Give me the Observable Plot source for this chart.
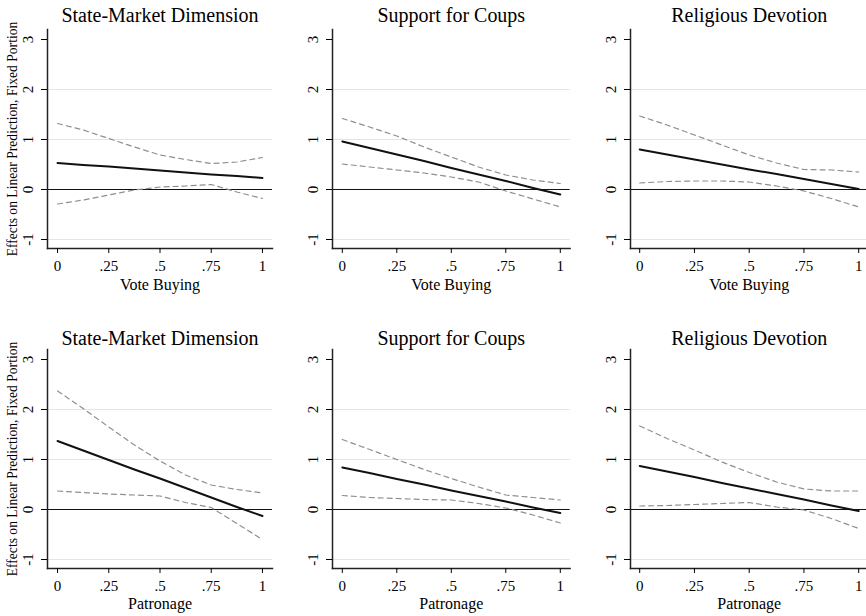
<!DOCTYPE html>
<html>
<head>
<meta charset="utf-8">
<script src="https://cdn.jsdelivr.net/npm/d3@7"></script>
<script src="https://cdn.jsdelivr.net/npm/@observablehq/plot@0.6"></script>
<style>
  html, body { margin: 0; padding: 0; background: #fff; }
  #chart { position: relative; width: 866px; height: 616px; overflow: hidden; background: #fff; }
  #chart svg { position: absolute; overflow: visible; }
</style>
</head>
<body>
<div id="chart"></div>
<script>
// ---------- Data ----------
const xGrid = [0, 0.125, 0.25, 0.375, 0.5, 0.625, 0.75, 0.875, 1];
const xTicks = [0, 0.25, 0.5, 0.75, 1];
const xTickLabels = ["0", ".25", ".5", ".75", "1"];
const yTicks = [-1, 0, 1, 2, 3];
const yTickLabels = ["-1", "0", "1", "2", "3"];
const gridTicks = [-1, 1, 2];
const panelTitles = ["State-Market Dimension", "Support for Coups", "Religious Devotion"];
const rowXLabels = ["Vote Buying", "Patronage"];
const yTitle = "Effects on Linear Prediction, Fixed Portion";

// Row 1: Vote Buying
const stateMarketVoteEst = [0.53, 0.49, 0.46, 0.42, 0.38, 0.34, 0.30, 0.27, 0.23];
const stateMarketVoteHi  = [1.32, 1.19, 1.02, 0.85, 0.69, 0.60, 0.52, 0.55, 0.64];
const stateMarketVoteLo  = [-0.29, -0.21, -0.11, -0.01, 0.05, 0.07, 0.10, -0.05, -0.18];

const coupsVoteEst = [0.96, 0.83, 0.70, 0.57, 0.43, 0.30, 0.17, 0.03, -0.10];
const coupsVoteHi  = [1.42, 1.25, 1.07, 0.85, 0.65, 0.45, 0.29, 0.19, 0.12];
const coupsVoteLo  = [0.51, 0.45, 0.39, 0.33, 0.25, 0.15, -0.03, -0.19, -0.35];

const religVoteEst = [0.80, 0.70, 0.60, 0.50, 0.40, 0.31, 0.21, 0.11, 0.01];
const religVoteHi  = [1.47, 1.29, 1.09, 0.89, 0.69, 0.53, 0.40, 0.39, 0.35];
const religVoteLo  = [0.13, 0.16, 0.17, 0.17, 0.15, 0.07, -0.03, -0.18, -0.35];

// Row 2: Patronage
const stateMarketPatEst = [1.37, 1.18, 0.99, 0.80, 0.62, 0.43, 0.24, 0.05, -0.13];
const stateMarketPatHi  = [2.37, 2.02, 1.65, 1.29, 0.97, 0.69, 0.49, 0.40, 0.33];
const stateMarketPatLo  = [0.37, 0.34, 0.31, 0.29, 0.27, 0.14, 0.04, -0.28, -0.60];

const coupsPatEst = [0.84, 0.73, 0.61, 0.50, 0.38, 0.27, 0.16, 0.04, -0.07];
const coupsPatHi  = [1.40, 1.20, 1.00, 0.80, 0.62, 0.45, 0.29, 0.24, 0.19];
const coupsPatLo  = [0.28, 0.24, 0.22, 0.20, 0.19, 0.12, 0.03, -0.11, -0.27];

const religPatEst = [0.87, 0.76, 0.65, 0.53, 0.42, 0.31, 0.20, 0.08, -0.03];
const religPatHi  = [1.67, 1.42, 1.19, 0.95, 0.74, 0.55, 0.41, 0.37, 0.37];
const religPatLo  = [0.07, 0.08, 0.10, 0.12, 0.14, 0.05, -0.01, -0.18, -0.38];

// ---------- Layout ----------
const cols = [
  {left: 0,   marginLeft: 47, plotWidth: 225,   xDomain: [-0.049, 1.049]},
  {left: 290, marginLeft: 42, plotWidth: 237.6, xDomain: [-0.045, 1.045]},
  {left: 576, marginLeft: 54, plotWidth: 237.4, xDomain: [-0.042, 1.042]}
];
const rows = [
  {top: 0,   titleDy: -14, xLabelDy: 36},
  {top: 320, titleDy: -11, xLabelDy: 35}
];
const marginTop = 29, plotHeight = 219, marginBottom = 48, marginRight = 20;
const font = "Liberation Serif, Times New Roman, serif";

function panel(col, row, est, hi, lo, title, xlabel, showYTitle) {
  const c = cols[col], r = rows[row];
  const data = xGrid.map((x, i) => ({x, est: est[i], hi: hi[i], lo: lo[i]}));
  const marks = [
    Plot.gridY(gridTicks, {stroke: "#e4e4e4", strokeOpacity: 1, strokeWidth: 1}),
    Plot.ruleY([0], {stroke: "#111", strokeWidth: 1}),
    Plot.line(data, {x: "x", y: "hi", stroke: "#8f8f8f", strokeWidth: 1.2, strokeDasharray: "5,4"}),
    Plot.line(data, {x: "x", y: "lo", stroke: "#8f8f8f", strokeWidth: 1.2, strokeDasharray: "5,4"}),
    Plot.line(data, {x: "x", y: "est", stroke: "#111", strokeWidth: 2}),
    Plot.frame({anchor: "left", stroke: "#222", strokeWidth: 1.5}),
    Plot.frame({anchor: "bottom", stroke: "#222", strokeWidth: 1.5}),
    Plot.axisX({ticks: xTicks, tickFormat: d => xTickLabels[xTicks.indexOf(d)], tickSize: 5, tickPadding: 7, fontSize: 15, fontFamily: font, label: null}),
    Plot.axisY({ticks: yTicks, tickFormat: d => yTickLabels[yTicks.indexOf(d)], tickRotate: -90, tickSize: 6, tickPadding: 9, fontSize: 15, fontFamily: font, label: null}),
    Plot.text([title], {text: d => d, frameAnchor: "top", lineAnchor: "middle", dy: r.titleDy, fontSize: 20, fontFamily: font}),
    Plot.text([xlabel], {text: d => d, frameAnchor: "bottom", lineAnchor: "middle", dy: r.xLabelDy, fontSize: 16, fontFamily: font})
  ];
  if (showYTitle) {
    marks.push(Plot.text([yTitle], {text: d => d, frameAnchor: "left", textAnchor: "middle", lineAnchor: "middle", rotate: -90, dx: -35, fontSize: 13.6, fontFamily: font}));
  }
  const svg = Plot.plot({
    width: c.marginLeft + c.plotWidth + marginRight,
    height: marginTop + plotHeight + marginBottom,
    marginLeft: c.marginLeft,
    marginRight: marginRight,
    marginTop: marginTop,
    marginBottom: marginBottom,
    x: {domain: c.xDomain},
    y: {domain: [-1.18, 3.2]},
    style: {fontFamily: font, background: "transparent", color: "black", overflow: "visible"},
    marks
  });
  svg.style.left = c.left + "px";
  svg.style.top = r.top + "px";
  document.getElementById("chart").appendChild(svg);
}

const seriesByPanel = [
  [stateMarketVoteEst, stateMarketVoteHi, stateMarketVoteLo],
  [coupsVoteEst, coupsVoteHi, coupsVoteLo],
  [religVoteEst, religVoteHi, religVoteLo],
  [stateMarketPatEst, stateMarketPatHi, stateMarketPatLo],
  [coupsPatEst, coupsPatHi, coupsPatLo],
  [religPatEst, religPatHi, religPatLo]
];

for (let row = 0; row < 2; row++) {
  for (let col = 0; col < 3; col++) {
    const [e, h, l] = seriesByPanel[row * 3 + col];
    panel(col, row, e, h, l, panelTitles[col], rowXLabels[row], col === 0);
  }
}
</script>
</body>
</html>
